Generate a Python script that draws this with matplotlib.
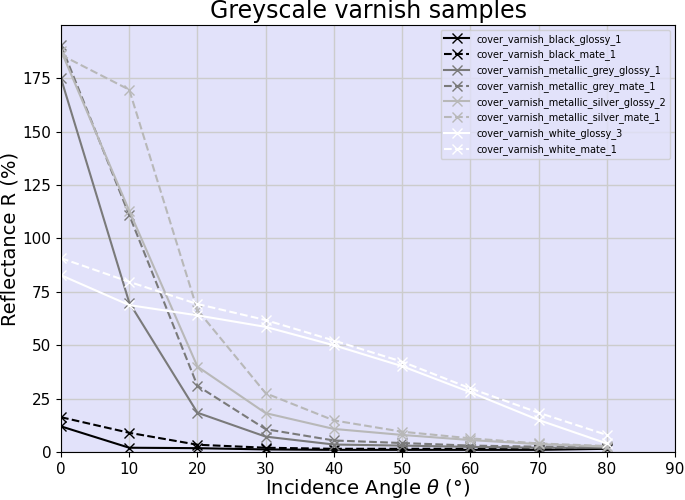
import matplotlib
matplotlib.use("Agg")
import matplotlib.pyplot as plt

# angles d'incidence (degres)
angles = [0, 10, 20, 30, 40, 50, 60, 70, 80]

# reflectance (%)
black_glossy = [12, 2, 1.8, 1.2, 1, 1, 1, 1, 1.5]
black_mate = [16.3, 9, 3.4, 2, 1.5, 1.5, 1.5, 1.5, 2]
grey_glossy = [175, 70, 18.4, 7.2, 3.5, 3, 2.4, 2, 2]
grey_mate = [190.5, 111, 31, 10.7, 5.4, 4.2, 3, 2.5, 2.5]
silver_glossy = [188, 113, 40, 18.2, 10.8, 8, 5.6, 3.7, 2.5]
silver_mate = [186, 169.7, 66.5, 27.5, 14.8, 9.5, 6.4, 4, 2.8]
white_glossy = [82.8, 68.8, 64, 58.6, 50, 40.2, 28, 15, 4]
white_mate = [90.8, 79.7, 69.3, 61.8, 52.2, 42.3, 29.8, 18.4, 8]

labels = ["cover_varnish_black_glossy_1", "cover_varnish_black_mate_1",
          "cover_varnish_metallic_grey_glossy_1", "cover_varnish_metallic_grey_mate_1",
          "cover_varnish_metallic_silver_glossy_2", "cover_varnish_metallic_silver_mate_1",
          "cover_varnish_white_glossy_3", "cover_varnish_white_mate_1"]
series = [black_glossy, black_mate, grey_glossy, grey_mate,
          silver_glossy, silver_mate, white_glossy, white_mate]
colors = ["black", "black", "#7a7a7a", "#7a7a7a", "#b8b8b8", "#b8b8b8", "white", "white"]
styles = ["-", "--", "-", "--", "-", "--", "-", "--"]

fig = plt.figure(figsize=(6.85, 5), dpi=100)
ax = fig.add_axes([61 / 685, 1 - 452 / 500, 614 / 685, 427 / 500])
ax.set_facecolor("#e2e2fa")
ax.grid(True, color="#cccccc", linewidth=1)
ax.set_axisbelow(True)

for y, lab, c, ls in zip(series, labels, colors, styles):
    ax.plot(angles, y, linestyle=ls, color=c, marker="x", markersize=7,
            linewidth=1.5, label=lab)

ax.set_xlim(0, 90)
ax.set_ylim(0, 200)
ax.set_xticks(range(0, 91, 10))
ax.set_yticks(range(0, 176, 25))
ax.tick_params(labelsize=11)
ax.set_xlabel(r"Incidence Angle $\theta$ (°)", fontsize=14, labelpad=0)
ax.set_ylabel("Reflectance R (%)", fontsize=14, labelpad=2)
ax.set_title("Greyscale varnish samples", fontsize=17, pad=5)
ax.legend(loc="upper right", fontsize=7, handlelength=2.5,
          facecolor="#e2e2fa", framealpha=0.8)

plt.savefig("out.png")
plt.close()
